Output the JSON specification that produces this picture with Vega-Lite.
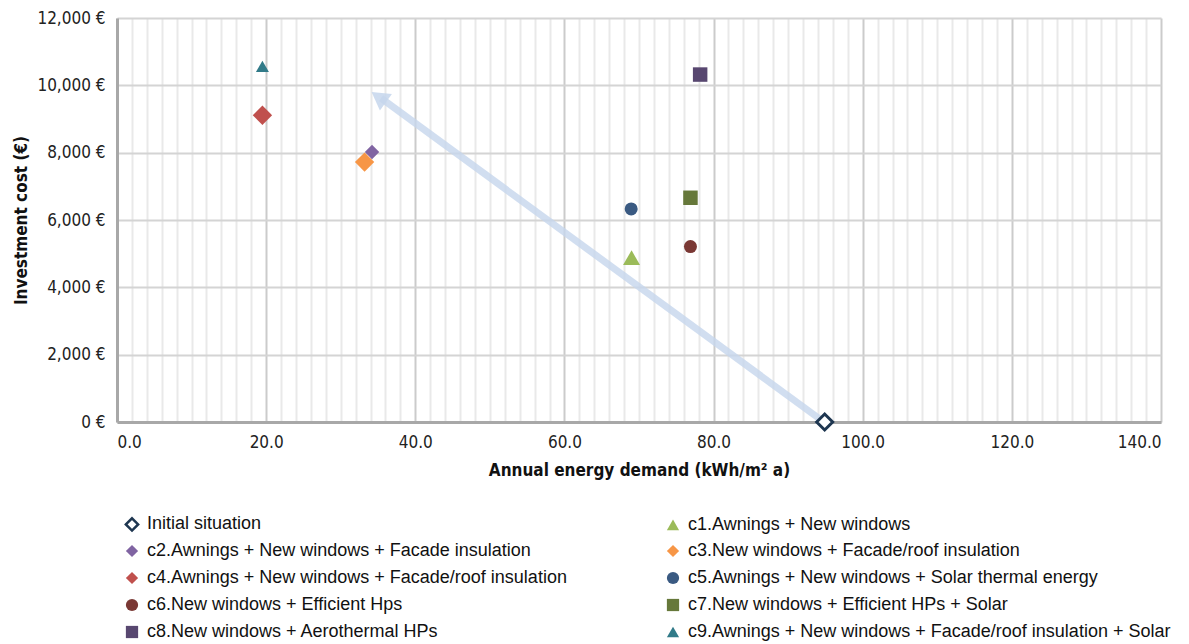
{
  "$schema": "https://vega.github.io/schema/vega-lite/v6.json",
  "autosize": "none",
  "width": 1044,
  "height": 404,
  "padding": {"left": 117, "top": 18, "right": 28, "bottom": 222},
  "background": "white",
  "config": {
    "view": {"stroke": null},
    "axis": {
      "labelFont": "Liberation Sans Narrow, DejaVu Sans Condensed, Arial Narrow, sans-serif",
      "titleFont": "Liberation Sans Narrow, DejaVu Sans Condensed, Arial Narrow, sans-serif",
      "labelFontSize": 17,
      "titleFontSize": 17,
      "labelColor": "#222222",
      "titleColor": "#111111"
    },
    "legend": {
      "labelFont": "Liberation Sans, Arial, sans-serif",
      "labelFontSize": 18,
      "labelColor": "#111111",
      "labelLimit": 600
    }
  },
  "resolve": {"axis": {"x": "independent"}},
  "layer": [
    {
      "data": {"values": [{"x": 94.8, "y": 0, "x2": 35.4, "y2": 9620}]},
      "mark": {"type": "rule", "color": "#c5d6ec", "strokeWidth": 7, "opacity": 0.8},
      "encoding": {
        "x": {
          "field": "x", "type": "quantitative",
          "scale": {"domain": [0, 140], "nice": false, "zero": false},
          "axis": {
            "orient": "bottom",
            "values": [2,4,6,8,10,12,14,16,18,22,24,26,28,30,32,34,36,38,42,44,46,48,50,52,54,56,58,62,64,66,68,70,72,74,76,78,82,84,86,88,90,92,94,96,98,102,104,106,108,110,112,114,116,118,122,124,126,128,130,132,134,136,138],
            "grid": true, "gridColor": "#e9e9e9", "gridWidth": 2,
            "labels": false, "ticks": false, "domain": false, "title": null
          }
        },
        "y": {"field": "y", "type": "quantitative", "scale": {"domain": [0, 12000], "nice": false}},
        "x2": {"field": "x2"},
        "y2": {"field": "y2"}
      }
    },
    {
      "data": {"values": [{"x": 35.1, "y": 9650}]},
      "mark": {"type": "point", "shape": "triangle-up", "filled": true, "size": 420, "angle": 306, "color": "#c5d6ec", "opacity": 0.85},
      "encoding": {
        "x": {"field": "x", "type": "quantitative", "axis": null},
        "y": {"field": "y", "type": "quantitative"}
      }
    },
    {
      "data": {
        "values": [
          {"series": "Initial situation", "x": 94.9, "y": 0},
          {"series": "c1.Awnings + New windows", "x": 69.0, "y": 4880},
          {"series": "c2.Awnings + New windows + Facade insulation", "x": 34.2, "y": 8020},
          {"series": "c3.New windows + Facade/roof insulation", "x": 33.2, "y": 7720},
          {"series": "c4.Awnings + New windows + Facade/roof insulation", "x": 19.5, "y": 9110},
          {"series": "c5.Awnings + New windows + Solar thermal energy", "x": 68.95, "y": 6330},
          {"series": "c6.New windows + Efficient Hps", "x": 76.9, "y": 5210},
          {"series": "c7.New windows + Efficient HPs + Solar", "x": 76.9, "y": 6660},
          {"series": "c8.New windows + Aerothermal HPs", "x": 78.2, "y": 10320},
          {"series": "c9.Awnings + New windows + Facade/roof insulation + Solar", "x": 19.5, "y": 10560}
        ]
      },
      "encoding": {
        "x": {
          "field": "x", "type": "quantitative",
          "axis": {
            "orient": "bottom",
            "values": [0, 20, 40, 60, 80, 100, 120, 140],
            "format": ".1f",
            "grid": true, "gridColor": "#cbcbcb", "gridWidth": 2,
            "ticks": false, "domainColor": "#a8a8a8", "domainWidth": 3,
            "labelPadding": 12,
            "title": "Annual energy demand (kWh/m² a)",
            "titleFontWeight": "bold", "titlePadding": 12
          }
        },
        "y": {
          "field": "y", "type": "quantitative",
          "axis": {
            "values": [0, 2000, 4000, 6000, 8000, 10000, 12000],
            "labelExpr": "format(datum.value, ',') + ' €'",
            "grid": true, "gridColor": "#d4d4d4", "gridWidth": 2,
            "ticks": false, "domainColor": "#a8a8a8", "domainWidth": 3,
            "labelPadding": 12,
            "title": "Investment cost (€)",
            "titleFontWeight": "bold", "titlePadding": 6
          }
        },
        "shape": {
          "field": "series", "type": "nominal", "title": null,
          "scale": {
            "domain": ["Initial situation", "c1.Awnings + New windows", "c2.Awnings + New windows + Facade insulation", "c3.New windows + Facade/roof insulation", "c4.Awnings + New windows + Facade/roof insulation", "c5.Awnings + New windows + Solar thermal energy", "c6.New windows + Efficient Hps", "c7.New windows + Efficient HPs + Solar", "c8.New windows + Aerothermal HPs", "c9.Awnings + New windows + Facade/roof insulation + Solar"],
            "range": ["diamond", "triangle-up", "diamond", "diamond", "diamond", "circle", "circle", "square", "square", "triangle-up"]
          },
          "legend": {
            "orient": "none", "legendX": 6, "legendY": 497, "columns": 2, "columnPadding": 94,
            "rowPadding": 3, "symbolSize": 150, "symbolStrokeWidth": 2.5,
            "labelOffset": 6, "direction": "horizontal"
          }
        },
        "fill": {
          "field": "series", "type": "nominal", "title": null,
          "scale": {
            "domain": ["Initial situation", "c1.Awnings + New windows", "c2.Awnings + New windows + Facade insulation", "c3.New windows + Facade/roof insulation", "c4.Awnings + New windows + Facade/roof insulation", "c5.Awnings + New windows + Solar thermal energy", "c6.New windows + Efficient Hps", "c7.New windows + Efficient HPs + Solar", "c8.New windows + Aerothermal HPs", "c9.Awnings + New windows + Facade/roof insulation + Solar"],
            "range": ["#ffffff", "#9bbb59", "#8064a2", "#f79646", "#c0504d", "#3a5a82", "#7a3834", "#66783a", "#584770", "#317a88"]
          }
        },
        "stroke": {
          "field": "series", "type": "nominal", "title": null,
          "scale": {
            "domain": ["Initial situation", "c1.Awnings + New windows", "c2.Awnings + New windows + Facade insulation", "c3.New windows + Facade/roof insulation", "c4.Awnings + New windows + Facade/roof insulation", "c5.Awnings + New windows + Solar thermal energy", "c6.New windows + Efficient Hps", "c7.New windows + Efficient HPs + Solar", "c8.New windows + Aerothermal HPs", "c9.Awnings + New windows + Facade/roof insulation + Solar"],
            "range": ["#1e3650", "transparent", "transparent", "transparent", "transparent", "transparent", "transparent", "transparent", "transparent", "transparent"]
          }
        }
      },
      "layer": [
        {
          "transform": [{"filter": {"field": "series", "oneOf": ["c2.Awnings + New windows + Facade insulation", "c7.New windows + Efficient HPs + Solar", "c8.New windows + Aerothermal HPs"]}}],
          "mark": {"type": "point", "filled": false, "strokeWidth": 3, "opacity": 1, "size": 210}
        },
        {
          "transform": [{"filter": {"field": "series", "oneOf": ["c5.Awnings + New windows + Solar thermal energy", "c6.New windows + Efficient Hps", "c9.Awnings + New windows + Facade/roof insulation + Solar"]}}],
          "mark": {"type": "point", "filled": false, "strokeWidth": 3, "opacity": 1, "size": 169}
        },
        {
          "transform": [{"filter": {"field": "series", "oneOf": ["c1.Awnings + New windows"]}}],
          "mark": {"type": "point", "filled": false, "strokeWidth": 3, "opacity": 1, "size": 289}
        },
        {
          "transform": [{"filter": {"field": "series", "oneOf": ["c3.New windows + Facade/roof insulation", "c4.Awnings + New windows + Facade/roof insulation"]}}],
          "mark": {"type": "point", "filled": false, "strokeWidth": 3, "opacity": 1, "size": 375}
        },
        {
          "transform": [{"filter": {"field": "series", "oneOf": ["Initial situation"]}}],
          "mark": {"type": "point", "filled": false, "strokeWidth": 3, "opacity": 1, "size": 256}
        }
      ]
    }
  ]
}
